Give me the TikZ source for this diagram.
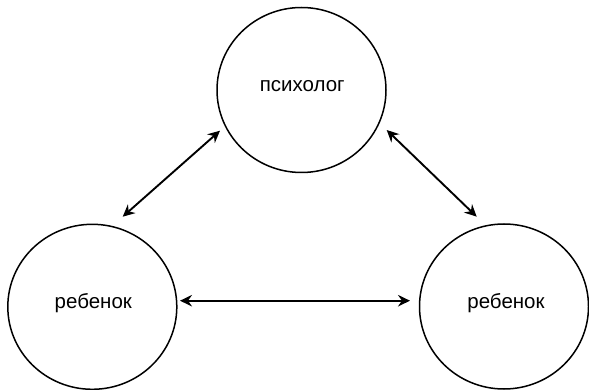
\documentclass[tikz,border=0pt]{standalone}
\usepackage{fontspec}
\setmainfont{Liberation Sans}
\usetikzlibrary{arrows.meta,shapes.geometric}
\begin{document}
\begin{tikzpicture}[x=1pt,y=-1pt,
  bubble/.style={draw=black,line width=1.5pt,ellipse,inner sep=0pt,minimum width=169pt,minimum height=165pt},
  lbl/.style={anchor=base,inner sep=0pt,font=\fontsize{20.5}{24}\selectfont},
  arr/.style={line width=1.9pt,{Stealth[length=12pt,width=11.5pt,inset=4pt]}-{Stealth[length=12pt,width=11.5pt,inset=4pt]}}]
\useasboundingbox (0,0) rectangle (589,390);
\node[bubble] (top) at (301.5,90) {};
\node[bubble] (left) at (92.3,306.8) {};
\node[bubble] (right) at (504,306.5) {};
\node[lbl] (ttop) at (302.3,91.7) {психолог};
\node[lbl] (tleft) at (93.3,308.3) {ребенок};
\node[lbl] (tright) at (506,308.3) {ребенок};
\draw[arr] ([shift={(-81.5,40.7)}]top.center) -- ([shift={(30.4,-90.1)}]left.center);
\draw[arr] ([shift={(85.2,40)}]top.center) -- ([shift={(-27.3,-89.8)}]right.center);
\draw[arr] ([shift={(87.7,-6.1)}]left.center) -- ([shift={(-94,-5.8)}]right.center);
\end{tikzpicture}
\end{document}
